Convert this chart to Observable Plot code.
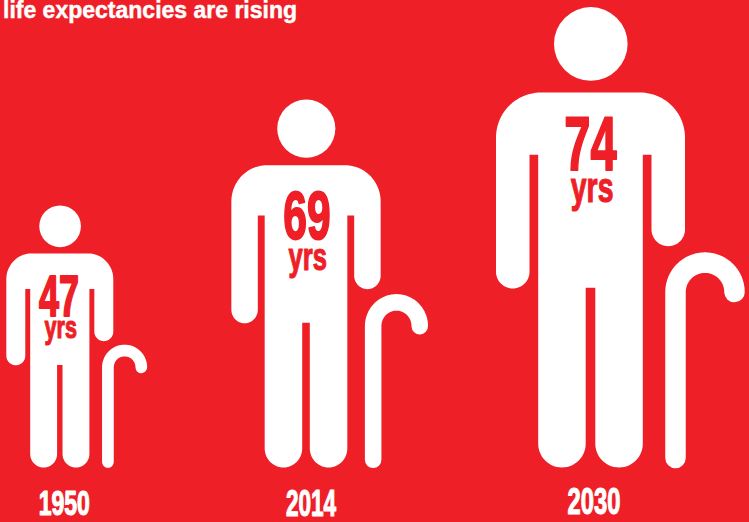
<!DOCTYPE html>
<html>
<head>
<meta charset="utf-8">
<script src="https://cdn.jsdelivr.net/npm/d3@7"></script>
<script src="https://cdn.jsdelivr.net/npm/@observablehq/plot@0.6"></script>
<style>
  html, body { margin: 0; padding: 0; background: #ee1f27; }
  #chart { width: 749px; height: 522px; overflow: hidden; }
  svg { display: block; }
</style>
</head>
<body>
<div id="chart"></div>
<script>
// Values
const headline = "life expectancies are rising";
const years = ["1950", "2014", "2030"];
const lifeExpectancy = [47, 69, 74];
const unitLabel = "yrs";

// Figure placement on the page
const RED = "#ee1f27";
const figureCentre = [59.3, 305.5, 590];
const statureOf = d3.scaleLinear().domain(lifeExpectancy).range([262, 368, 460.4]);
const breadth = [0.566, 0.79, 1]; // horizontal scale of body and stick
const build = [0.571, 0.806, 1]; // vertical scale of body and stick

// Label placement: baseline (page px), centre x, font size, drawn width
const countLayout = [
  {x: 58.5, y: 315.2, size: 57, width: 40},
  {x: 306.5, y: 238.6, size: 68.5, width: 47.4},
  {x: 590, y: 169.5, size: 76, width: 52.4}
];
const unitLayout = [
  {x: 60.3, y: 337.7, size: 31.5, width: 32.4},
  {x: 307.2, y: 269.7, size: 38.5, width: 38.4},
  {x: 591.6, y: 201.4, size: 42.5, width: 42.7}
];
const yearLayout = [
  {x: 63.8, y: 514.7, size: 34.5, width: 51.2},
  {x: 310.5, y: 515.4, size: 37, width: 50.2},
  {x: 593.5, y: 513, size: 37, width: 52.8}
];

// Vertical data units are height above the ground line
const GROUND = 467;
const heightAt = (py) => GROUND - py;

// Sample a circular arc in outline units (angles in degrees, v pointing up)
function arc(cu, cv, r, from, to, steps = 28) {
  return d3.range(steps + 1).map((i) => {
    const a = ((from + ((to - from) * i) / steps) * Math.PI) / 180;
    return [cu + r * Math.cos(a), cv + r * Math.sin(a)];
  });
}

// Body outline: arms of unequal length, a slit each side of the torso, two legs
const bodyOutline = [
  ...arc(-77.75, 195.75, 16.75, 180, 360),
  [-61, 312.7], [-52.3, 312.7],
  ...arc(-28.55, 23.75, 23.75, 180, 360),
  [-4.8, 179.7], [4.8, 179.7],
  ...arc(28.55, 23.75, 23.75, 180, 360),
  [52.3, 312.7], [61, 312.7],
  ...arc(77.75, 238.05, 16.75, 180, 360),
  ...arc(49.5, 330, 45, 0, 90),
  ...arc(-49.5, 330, 45, 90, 180)
];

// Walking stick centre line
const caneLine = [[85, 9.5], ...arc(114.5, 175.4, 29.5, 180, 0, 40)];

const figures = years.map((year, i) => ({
  year,
  centre: figureCentre[i],
  stature: statureOf(lifeExpectancy[i]),
  sx: breadth[i],
  sy: build[i]
}));

const place = (f, [u, v]) => ({year: f.year, x: f.centre + u * f.sx, y: v * f.sy});

const bodies = figures.flatMap((f) => bodyOutline.map((p) => place(f, p)));
const canes = figures.flatMap((f) =>
  caneLine.map((p) => ({...place(f, p), width: 20.5 * f.sy}))
);
const heads = figures.map((f) => {
  const r = 36.8 * f.sx;
  return {x: f.centre + 0.3, y: f.stature - r, r};
});

const rows = (labels, layout) =>
  labels.map((text, i) => ({text, ...layout[i], y: heightAt(layout[i].y)}));

const countLabels = rows(lifeExpectancy.map(String), countLayout);
const unitLabels = rows(years.map(() => unitLabel), unitLayout);
const yearLabels = rows(years, yearLayout);

const NARROW = "'Liberation Sans Narrow', 'Liberation Sans', sans-serif";

const labelMark = (data, fill, className, strokeWidth) =>
  Plot.text(data, {
    x: "x",
    y: "y",
    text: "text",
    fill,
    stroke: fill,
    strokeWidth,
    fontSize: "size",
    fontWeight: 700,
    fontFamily: NARROW,
    textAnchor: "middle",
    lineAnchor: "bottom",
    className
  });

const chart = Plot.plot({
  width: 749,
  height: 522,
  margin: 0,
  style: {background: RED, overflow: "hidden"},
  x: {domain: [0, 749], range: [0, 749], axis: null},
  y: {domain: [-55, 467], range: [522, 0], axis: null},
  r: {type: "identity"},
  marks: [
    Plot.line(bodies, {x: "x", y: "y", z: "year", fill: "white", stroke: "none"}),
    Plot.dot(heads, {x: "x", y: "y", r: "r", fill: "white", stroke: "none"}),
    Plot.line(canes, {
      x: "x",
      y: "y",
      z: "year",
      stroke: "white",
      strokeWidth: "width",
      strokeLinecap: "round",
      strokeLinejoin: "round"
    }),
    labelMark(countLabels, RED, "count-label", 2),
    labelMark(unitLabels, RED, "unit-label", 1.2),
    labelMark(yearLabels, "white", "year-label", 1.2),
    Plot.text([headline], {
      frameAnchor: "top-left",
      dx: 2.5,
      dy: 1.5,
      text: (d) => d,
      fill: "white",
      stroke: "white",
      strokeWidth: 0.45,
      fontSize: 23,
      fontWeight: 700,
      fontFamily: "'Liberation Sans', Arial, sans-serif",
      textAnchor: "start",
      lineAnchor: "top"
    })
  ]
});

// Condensed display labels: fit each string to its drawn width
const fit = (cls, layout) =>
  d3.select(chart).selectAll(`.${cls} text`).each(function (_, i) {
    this.setAttribute("textLength", layout[i].width);
    this.setAttribute("lengthAdjust", "spacingAndGlyphs");
  });
fit("count-label", countLayout);
fit("unit-label", unitLayout);
fit("year-label", yearLayout);

document.getElementById("chart").append(chart);
</script>
</body>
</html>
